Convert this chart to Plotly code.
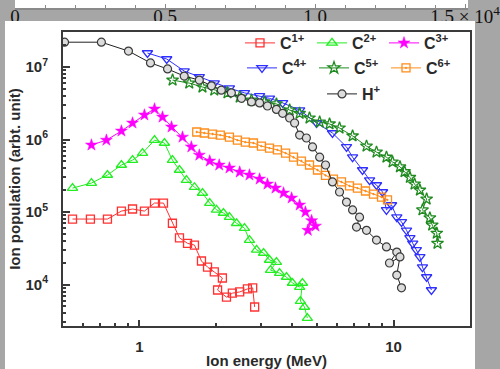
import math
import plotly.graph_objects as go

# ---------------- data ----------------
c1_E = [0.545, 0.641, 0.748, 0.849, 0.939, 1.046, 1.146, 1.243, 1.348, 1.437, 1.546, 1.646,
        1.754, 1.853, 1.97, 2.12, 2.03, 2.20, 2.32, 2.48, 2.66, 2.79, 2.84]
c1_N = [8.0e4, 8.0e4, 8.0e4, 1.03e5, 1.10e5, 1.03e5, 1.33e5, 1.33e5, 7.0e4, 4.4e4, 3.7e4, 3.5e4,
        2.11e4, 1.74e4, 1.49e4, 1.23e4, 8.4e3, 6.7e3, 7.6e3, 7.9e3, 8.7e3, 9.0e3, 4.9e3]

c2_E = [0.545, 0.647, 0.748, 0.849, 0.939, 1.028, 1.146, 1.254, 1.348, 1.437, 1.53, 1.646, 1.77,
        1.89, 2.01, 2.14, 2.26, 2.41, 2.59, 2.71, 2.89, 3.08, 3.25, 3.46, 3.28, 3.56, 3.79,
        4.00, 4.27, 4.38, 4.30, 4.46, 4.58]
c2_N = [2.14e5, 2.51e5, 3.24e5, 4.45e5, 5.2e5, 6.5e5, 9.8e5, 8.95e5, 5.2e5, 3.8e5, 2.76e5, 2.2e5,
        1.83e5, 1.33e5, 1.07e5, 9.7e4, 8.5e4, 7.0e4, 6.0e4, 4.1e4, 3.0e4, 2.72e4, 2.18e4, 2.04e4,
        1.58e4, 1.44e4, 1.27e4, 1.05e4, 9.2e3, 1.05e4, 5.9e3, 4.9e3, 3.45e3]

c3_E = [0.647, 0.741, 0.849, 0.939, 1.046, 1.146, 1.232, 1.337, 1.477, 1.60, 1.72, 1.89, 2.06,
        2.26, 2.48, 2.71, 2.97, 3.19, 3.43, 3.69, 3.97, 4.27, 4.50, 4.76, 4.60, 4.93]
c3_N = [8.4e5, 9.8e5, 1.31e6, 1.69e6, 2.18e6, 2.64e6, 2.04e6, 1.49e6, 1.08e6, 7.9e5, 6.1e5,
        5.05e5, 4.45e5, 4.05e5, 3.56e5, 3.24e5, 2.85e5, 2.43e5, 2.14e5, 1.83e5, 1.56e5, 1.25e5,
        1.0e5, 7.6e4, 5.6e4, 6.4e4]

c4_E = [1.075, 1.28, 1.50, 1.72, 1.97, 2.26, 2.59, 2.97, 3.25, 3.66, 4.27, 4.98, 5.75, 6.53,
        6.90, 7.55, 8.05, 8.57, 9.05, 9.38, 9.82, 10.3, 10.75, 11.25, 11.6, 11.9, 12.3, 12.7,
        13.0, 13.5, 14.1]
c4_N = [1.56e7, 1.29e7, 8.8e6, 7.3e6, 6.0e6, 5.1e6, 4.4e6, 4.0e6, 3.7e6, 3.2e6, 2.55e6, 1.69e6,
        1.23e6, 7.9e5, 5.7e5, 3.8e5, 2.76e5, 2.36e5, 1.89e5, 1.07e5, 1.25e5, 8.5e4, 7.3e4, 5.6e4,
        4.4e4, 3.7e4, 3.0e4, 2.4e4, 1.74e4, 1.27e4, 8.4e3]

c5_E = [1.35, 1.57, 1.77, 1.97, 2.22, 2.48, 2.76, 3.10, 3.46, 3.90, 4.27, 4.67, 5.12, 5.60, 6.13,
        6.90, 7.83, 8.57, 9.38, 9.91, 10.6, 11.05, 11.6, 12.1, 12.7, 13.5, 13.0, 13.9, 14.2,
        14.8, 14.9]
c5_N = [6.6e6, 6.0e6, 5.3e6, 4.8e6, 4.4e6, 3.85e6, 3.5e6, 3.3e6, 3.1e6, 2.55e6, 2.3e6, 1.98e6,
        1.74e6, 1.64e6, 1.44e6, 1.12e6, 8.1e5, 6.7e5, 5.7e5, 4.9e5, 4.2e5, 3.6e5, 3.0e5, 2.43e5,
        2.0e5, 1.51e5, 1.07e5, 8.3e4, 6.6e4, 5.1e4, 3.7e4]

c6_E = [1.68, 1.80, 1.94, 2.08, 2.26, 2.43, 2.61, 2.81, 3.02, 3.25, 3.49, 3.76, 4.04, 4.34, 4.67,
        5.02, 5.40, 5.80, 6.24, 6.71, 7.21, 7.76, 8.34, 8.97, 9.47]
c6_N = [1.27e6, 1.23e6, 1.19e6, 1.15e6, 1.08e6, 9.8e5, 9.2e5, 8.95e5, 8.1e5, 7.6e5, 7.2e5, 6.5e5,
        5.7e5, 5.05e5, 4.45e5, 3.8e5, 3.2e5, 2.85e5, 2.6e5, 2.29e5, 2.14e5, 1.95e5, 1.77e5,
        1.61e5, 1.47e5]

h_E = [0.507, 0.708, 0.905, 1.105, 1.29, 1.50, 1.72, 1.92, 2.10, 2.30, 2.52, 2.76, 2.97, 3.19,
       3.46, 3.66, 3.90, 4.08, 4.27, 4.54, 4.80, 5.12, 5.40, 5.75, 6.13, 6.53, 6.90, 7.35, 7.15,
       7.83, 8.57, 9.38, 10.3, 9.64, 10.6, 10.3, 10.75]
h_N = [2.2e7, 2.2e7, 1.66e7, 1.14e7, 9.4e6, 7.5e6, 6.6e6, 5.5e6, 4.8e6, 4.4e6, 3.7e6, 3.3e6,
       3.2e6, 2.9e6, 2.6e6, 2.3e6, 1.98e6, 1.69e6, 1.15e6, 1.05e6, 7.9e5, 5.7e5, 4.45e5, 2.6e5,
       1.89e5, 1.37e5, 1.07e5, 8.5e4, 6.2e4, 5.6e4, 4.1e4, 3.3e4, 2.8e4, 1.98e4, 2.4e4, 1.35e4,
       9.0e3]

series_names = ["C<sup>1+</sup>", "C<sup>2+</sup>", "C<sup>3+</sup>",
                "C<sup>4+</sup>", "C<sup>5+</sup>", "C<sup>6+</sup>", "H<sup>+</sup>"]

x_tickvals = [1, 10]
x_ticktext = ["1", "10"]
x_minor = [0.6, 0.7, 0.8, 0.9, 2, 3, 4, 5, 6, 7, 8, 9]
y_tickvals = [1e4, 1e5, 1e6, 1e7]
y_ticktext = ["10<sup>4</sup>", "10<sup>5</sup>", "10<sup>6</sup>", "10<sup>7</sup>"]
y_minor = [m * 10 ** k for k in range(3, 8) for m in range(2, 10)]

top_tickvals = [0, 0.5, 1.0, 1.5]
top_ticktext = ["0", "0.5", "1.0", "1.5 × 10<sup>4</sup>"]
top_minor = [0.1, 0.2, 0.3, 0.4, 0.6, 0.7, 0.8, 0.9, 1.1, 1.2, 1.3, 1.4]

# ---------------- layout constants ----------------
W, H = 500, 369
def fx(p):
    return p / W
def fy(p):
    return 1 - p / H

FONT = "Arial, Liberation Sans, sans-serif"
TXT = "#2a2a2a"

fig = go.Figure()

styles = [
    (c1_E, c1_N, "square-open", "#ff3030", 8, "legend"),
    (c2_E, c2_N, "triangle-up-open", "#22ee22", 9, "legend"),
    (c3_E, c3_N, "star", "#ff00ff", 9, "legend"),
    (c4_E, c4_N, "triangle-down-open", "#2f2fff", 9, "legend2"),
    (c5_E, c5_N, "star-open", "#1f8a1f", 9, "legend2"),
    (c6_E, c6_N, "square-open-dot", "#ff8c1a", 8, "legend2"),
    (h_E, h_N, "circle", "#dcdcdc", 8, "legend3"),
]

for (xs, ys, sym, col, size, lg), name in zip(styles, series_names):
    if sym == "circle":
        marker = dict(symbol=sym, size=size, color=col, line=dict(color="#3a3a3a", width=1.2))
        line = dict(color="#222222", width=1)
    elif sym == "star":
        marker = dict(symbol=sym, size=size, color=col, line=dict(color=col, width=0.5))
        line = dict(color=col, width=1)
    else:
        marker = dict(symbol=sym, size=size, color=col, line=dict(color=col, width=1.3))
        line = dict(color=col, width=1)
    fig.add_trace(go.Scatter(x=xs, y=ys, mode="lines+markers", name=name,
                             marker=marker, line=line, legend=lg,
                             xaxis="x", yaxis="y"))

# invisible trace for the top strip axis (piece of the neighbouring figure)
fig.add_trace(go.Scatter(x=[0, 1.5], y=[0.5, 0.5], mode="markers", marker=dict(opacity=0),
                         showlegend=False, hoverinfo="skip", xaxis="x2", yaxis="y2"))

fig.update_layout(
    width=W, height=H,
    margin=dict(l=0, r=0, t=0, b=0),
    paper_bgcolor="#a6a6a6",
    plot_bgcolor="white",
    font=dict(family=FONT, color=TXT),
    xaxis=dict(
        type="log", range=[math.log10(0.5), math.log10(20)],
        domain=[fx(63), fx(470)], anchor="y",
        showgrid=False, zeroline=False,
        showline=True, linecolor="#3a3a3a", linewidth=2, mirror=True,
        ticks="inside", ticklen=6, tickwidth=2, tickcolor="#3a3a3a",
        tickmode="array", tickvals=x_tickvals, ticktext=x_ticktext,
        minor=dict(tickmode="array", tickvals=x_minor, ticks="inside", ticklen=3,
                   tickwidth=2, tickcolor="#3a3a3a", showgrid=False),
        tickfont=dict(family=FONT, size=15, color=TXT, weight="bold"),
        ticklabelstandoff=6,
        title=dict(text="Ion energy (MeV)", standoff=6,
                   font=dict(family=FONT, size=15, color=TXT, weight="bold")),
        automargin=False,
    ),
    yaxis=dict(
        type="log", range=[3.428, 7.483],
        domain=[fy(326), fy(32)], anchor="x",
        showgrid=False, zeroline=False,
        showline=True, linecolor="#3a3a3a", linewidth=2, mirror=True,
        ticks="inside", ticklen=7, tickwidth=2, tickcolor="#3a3a3a",
        tickmode="array", tickvals=y_tickvals, ticktext=y_ticktext,
        minor=dict(tickmode="array", tickvals=y_minor, ticks="inside", ticklen=3,
                   tickwidth=2, tickcolor="#3a3a3a", showgrid=False),
        tickfont=dict(family=FONT, size=15, color=TXT, weight="bold"),
        ticklabelstandoff=10,
        title=dict(text="Ion population (arbt. unit)", standoff=1,
                   font=dict(family=FONT, size=15, color=TXT, weight="bold")),
        automargin=False,
    ),
    xaxis2=dict(
        range=[0, 1.51], domain=[fx(15), fx(468)], anchor="y2",
        showgrid=False, zeroline=False,
        showline=True, linecolor="#8a8a8a", linewidth=1.5, mirror=True,
        ticks="inside", ticklen=4, tickwidth=1, tickcolor="#8a8a8a",
        tickmode="array", tickvals=top_tickvals, ticktext=top_ticktext,
        minor=dict(tickmode="array", tickvals=top_minor, ticks="inside", ticklen=3,
                   tickwidth=1, tickcolor="#8a8a8a", showgrid=False),
        tickfont=dict(family="Liberation Serif, Times New Roman, serif", size=19, color="#111111"),
        ticklabelstandoff=-10,
        ticklabeloverflow="allow",
        automargin=False,
    ),
    yaxis2=dict(range=[0, 1], domain=[fy(8), 1.0], anchor="x2", visible=False),
    legend=dict(orientation="h", x=fx(240), y=fy(26), xanchor="left", yanchor="top",
                bgcolor="rgba(0,0,0,0)", entrywidth=27, entrywidthmode="pixels",
                font=dict(family=FONT, size=16, color=TXT, weight="bold")),
    legend2=dict(orientation="h", x=fx(242), y=fy(51), xanchor="left", yanchor="top",
                 bgcolor="rgba(0,0,0,0)", entrywidth=27, entrywidthmode="pixels",
                 font=dict(family=FONT, size=16, color=TXT, weight="bold")),
    legend3=dict(orientation="h", x=fx(322), y=fy(77), xanchor="left", yanchor="top",
                 bgcolor="rgba(0,0,0,0)", entrywidth=27, entrywidthmode="pixels",
                 font=dict(family=FONT, size=16, color=TXT, weight="bold")),
    shapes=[
        # white panel of the main figure
        dict(type="rect", xref="paper", yref="paper", x0=fx(5), x1=fx(475), y0=0, y1=fy(21),
             fillcolor="white", line=dict(width=0), layer="below"),
        # the panel's top edge hides the lower part of the strip labels above
        dict(type="rect", xref="paper", yref="paper", x0=fx(5), x1=fx(475), y0=fy(30), y1=fy(21),
             fillcolor="white", line=dict(width=0), layer="above"),
    ],
    showlegend=True,
)

fig.write_html("out.html", config={"displayModeBar": False},
               post_script="document.body.style.margin='0';document.body.style.overflow='hidden';")
